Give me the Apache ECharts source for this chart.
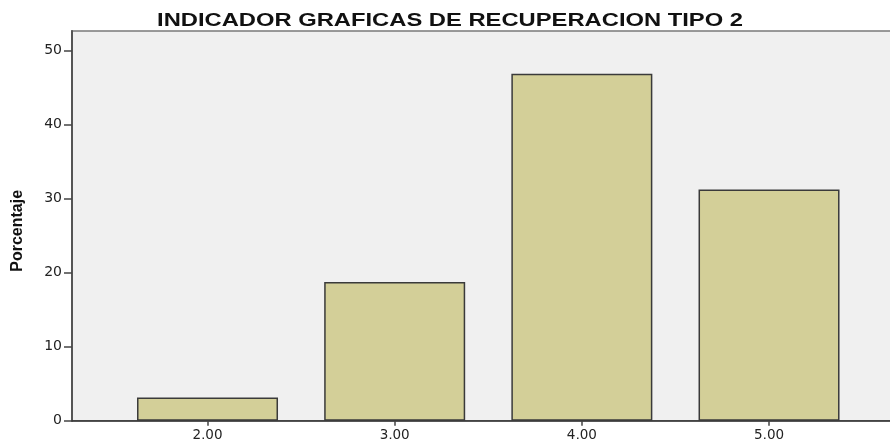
<!DOCTYPE html>
<html>
<head>
<meta charset="utf-8">
<script src="https://cdn.jsdelivr.net/npm/echarts@6/dist/echarts.min.js"></script>
<style>html,body{margin:0;padding:0;background:#fff;}#c{width:890px;height:439px;}</style>
</head>
<body>
<div id="c"></div>
<script>
const titleText = 'INDICADOR GRAFICAS DE RECUPERACION TIPO 2';
const yAxisName = 'Porcentaje';
const categories = ['2,00', '3,00', '4,00', '5,00'];
const categoryValues = [2, 3, 4, 5];
const percentages = [3.125, 18.75, 46.875, 31.25];
const yTicks = [0, 10, 20, 30, 40, 50];

const chart = echarts.init(document.getElementById('c'), null, {renderer: 'canvas'});
const barData = categoryValues.map((v, i) => [v, percentages[i]]);
const labelOf = {};
categoryValues.forEach((v, i) => { labelOf[v] = categories[i]; });

chart.setOption({
  backgroundColor: '#ffffff',
  animation: false,
  graphic: [{
    type: 'text',
    x: 450, y: 20.5,
    scaleX: 1.25,
    style: {
      text: titleText,
      font: 'bold 19px "Liberation Sans", Arial, sans-serif',
      fill: '#111',
      textAlign: 'center',
      textVerticalAlign: 'middle'
    }
  }],
  grid: {
    left: 72, top: 31, right: -2, bottom: 18.3,
    outerBoundsMode: 'none',
    containLabel: false,
    show: true,
    backgroundColor: '#f0f0f0',
    borderColor: '#7a7a7a',
    borderWidth: 1.5
  },
  xAxis: {
    type: 'value',
    min: 1.276,
    max: 5.657,
    splitLine: {show: false},
    axisLine: {show: true, lineStyle: {color: '#333', width: 1.5}},
    axisTick: {show: true, customValues: categoryValues, length: 5, lineStyle: {color: '#444', width: 1.5}},
    axisLabel: {
      customValues: categoryValues,
      formatter: v => labelOf[v] || '',
      margin: 8,
      color: '#222',
      fontFamily: '"DejaVu Sans", sans-serif',
      fontSize: 13.5
    }
  },
  yAxis: {
    type: 'value',
    min: 0,
    max: 52.66,
    interval: 10,
    name: yAxisName,
    nameLocation: 'middle',
    nameRotate: 90,
    nameGap: 46,
    nameTextStyle: {
      fontFamily: '"Liberation Sans Narrow", "Liberation Sans", Arial, sans-serif',
      fontWeight: 'bold',
      fontSize: 16,
      color: '#111',
      padding: [0, 10, 0, 0]
    },
    splitLine: {show: false},
    axisLine: {show: true, lineStyle: {color: '#555', width: 2}},
    axisTick: {show: true, customValues: yTicks, length: 8, lineStyle: {color: '#444', width: 1.5}},
    axisLabel: {
      customValues: yTicks,
      margin: 10,
      color: '#222',
      fontFamily: '"DejaVu Sans", sans-serif',
      fontSize: 14
    }
  },
  series: [{
    type: 'bar',
    data: barData,
    barWidth: 141,
    itemStyle: {color: '#d3cf98', borderColor: '#3a3a3a', borderWidth: 1.5}
  }]
});
</script>
</body>
</html>
